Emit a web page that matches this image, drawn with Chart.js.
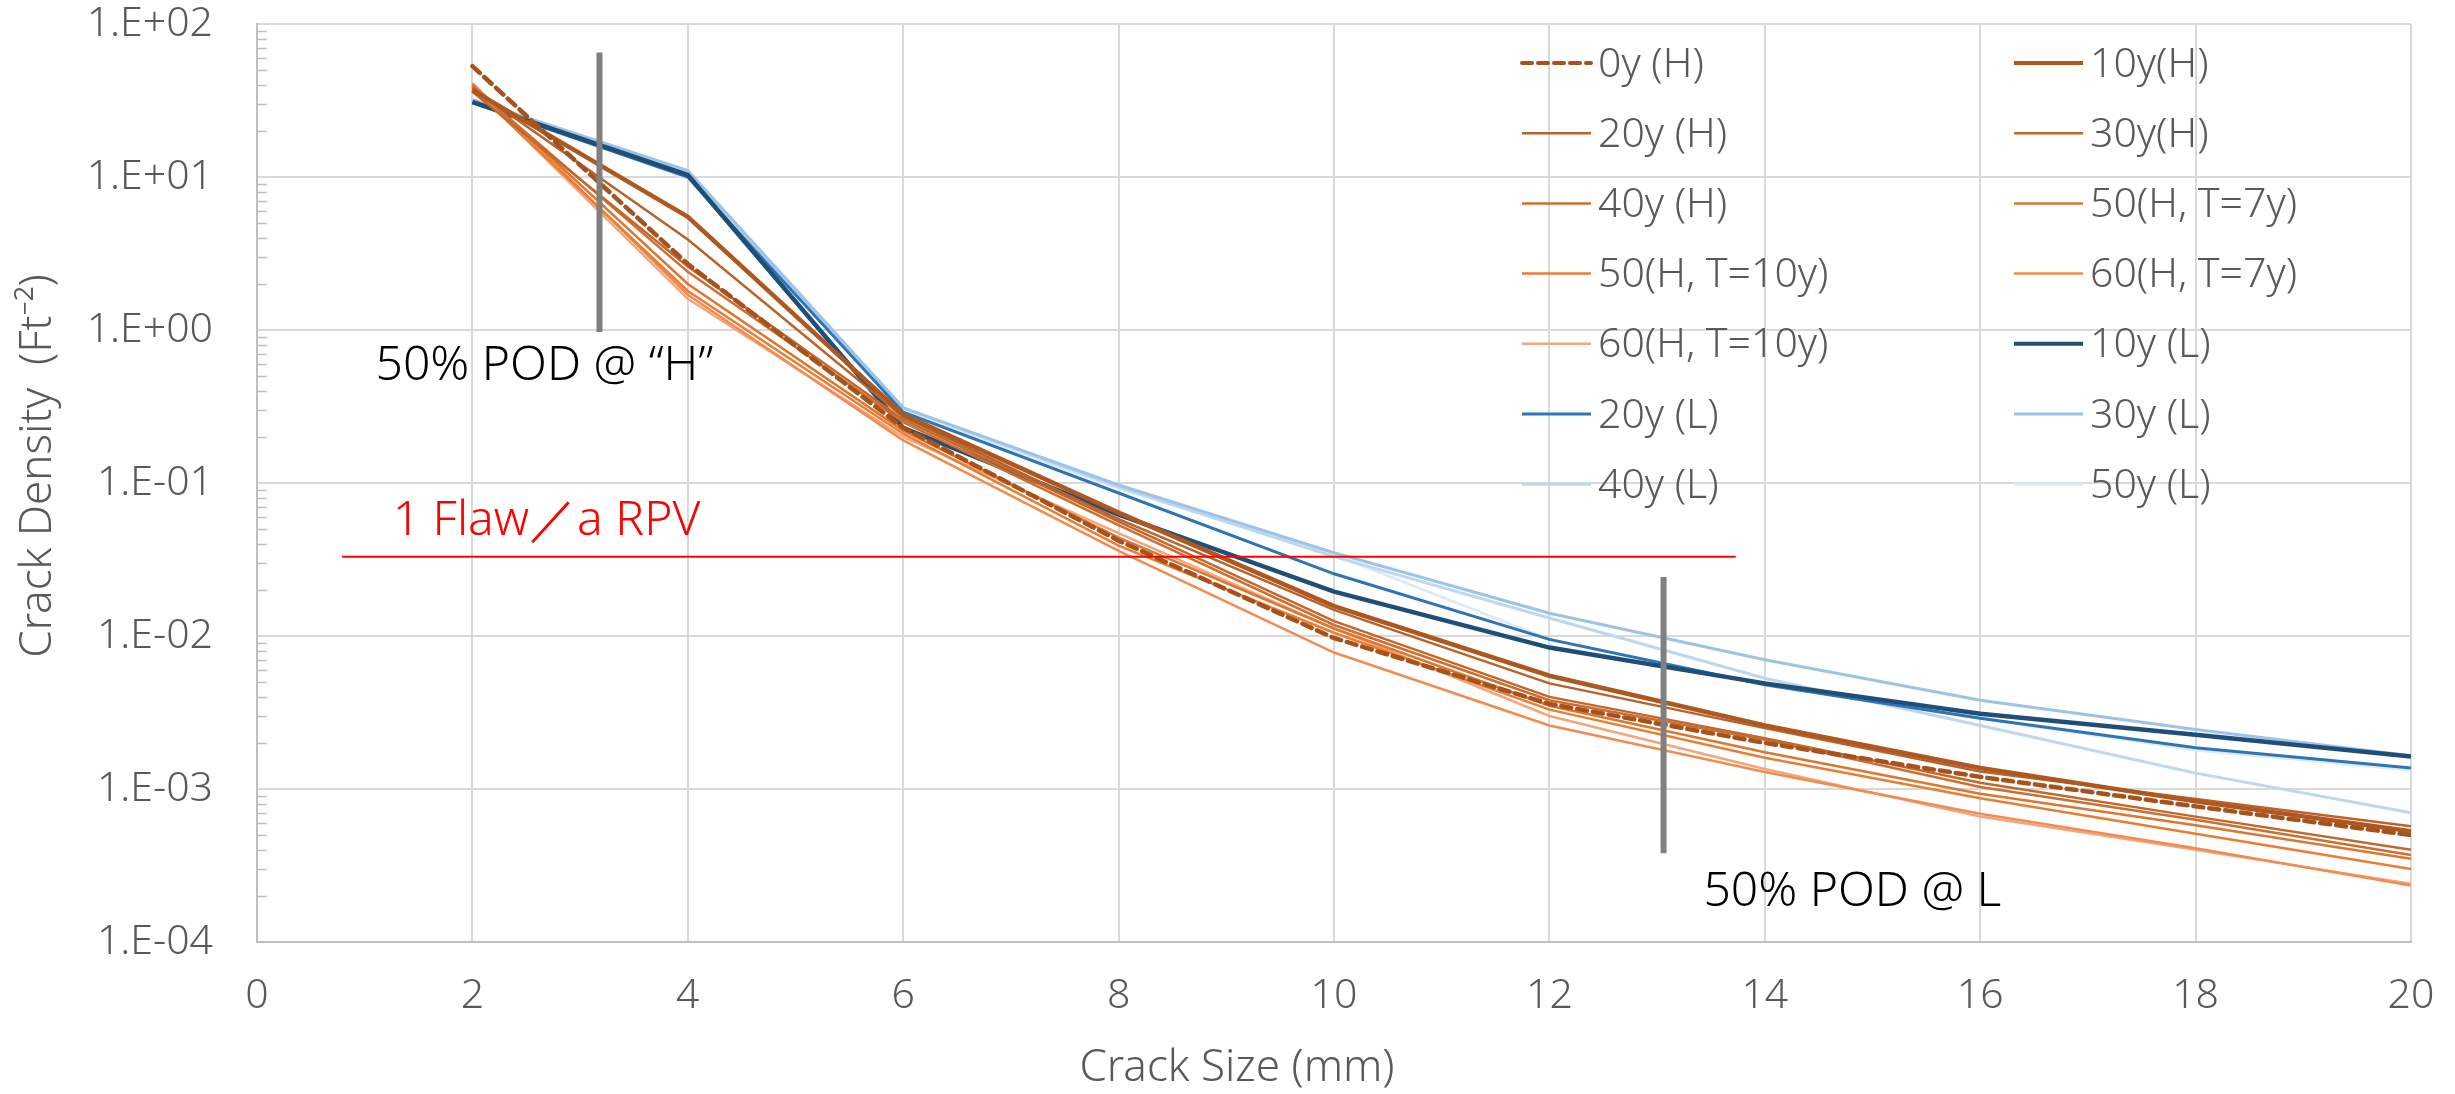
<!DOCTYPE html>
<html>
<head>
<meta charset="utf-8">
<script src="https://cdn.jsdelivr.net/npm/chart.js@4.4.1/dist/chart.umd.min.js"></script>
<style>
  html, body { margin: 0; padding: 0; background: #fff; }
</style>
</head>
<body>
<canvas id="crackChart" width="2455" height="1094"></canvas>
<script>
// crack size (mm)
const crackSize = [2, 4, 6, 8, 10, 12, 14, 16, 18, 20];

// crack density (Ft^-2), "H" cases
const h0y    = [53, 2.7, 0.23, 0.042, 0.0097, 0.0036, 0.0020, 0.0012, 0.00077, 0.00050];
const h10y   = [37, 5.5, 0.28, 0.064, 0.0157, 0.0055, 0.0026, 0.00137, 0.00083, 0.00053];
const h20y   = [38, 3.9, 0.27, 0.058, 0.0148, 0.0049, 0.0025, 0.00130, 0.00086, 0.00057];
const h30y   = [36, 2.6, 0.26, 0.056, 0.0125, 0.0040, 0.00215, 0.00110, 0.00066, 0.00040];
const h40y   = [39, 2.4, 0.25, 0.053, 0.0118, 0.0038, 0.0021, 0.00103, 0.00063, 0.00037];
const h50t7  = [40, 2.0, 0.22, 0.044, 0.0112, 0.0035, 0.00174, 0.00093, 0.00058, 0.00035];
const h50t10 = [38, 1.8, 0.21, 0.039, 0.0105, 0.0033, 0.0016, 0.00087, 0.00051, 0.00030];
const h60t7  = [41, 1.7, 0.19, 0.036, 0.0078, 0.0026, 0.00129, 0.00069, 0.00041, 0.000234];
const h60t10 = [39, 1.6, 0.20, 0.047, 0.0112, 0.0030, 0.00135, 0.00066, 0.00040, 0.00024];

// crack density (Ft^-2), "L" cases
const l10y = [31, 10.3, 0.229, 0.062, 0.0195, 0.0084, 0.0049, 0.0031, 0.00226, 0.00163];
const l20y = [30.5, 10.0, 0.29, 0.086, 0.0255, 0.0095, 0.0048, 0.0029, 0.00186, 0.00137];
const l30y = [32, 11, 0.31, 0.097, 0.035, 0.0141, 0.0070, 0.0038, 0.00245, 0.00165];
const l40y = [31, 10.5, 0.31, 0.094, 0.033, 0.0131, 0.0053, 0.0026, 0.00127, 0.00070];
const l50y = [32, 9.8, 0.30, 0.092, 0.034, 0.0095, 0.0048, 0.0029, 0.00180, 0.00133];

const seriesLabels = ['0y (H)', '10y(H)', '20y (H)', '30y(H)', '40y (H)', '50(H, T=7y)',
  '50(H, T=10y)', '60(H, T=7y)', '60(H, T=10y)', '10y (L)', '20y (L)', '30y (L)', '40y (L)', '50y (L)'];
const seriesValues = [h0y, h10y, h20y, h30y, h40y, h50t7, h50t10, h60t7, h60t10, l10y, l20y, l30y, l40y, l50y];

// y axis decades
const yTickValues = [1e-4, 1e-3, 1e-2, 1e-1, 1, 10, 100];

// reference marks: 1 flaw per RPV level and the two 50% POD sizes
const flawLevel = 0.033;
const flawRange = [0.79, 13.73];
const podHSize = 3.18;
const podHRange = [65, 0.97];
const podLSize = 13.06;
const podLRange = [0.0243, 0.00038];

const styles = [
  { color: '#A5521C', width: 4.5, dash: [10, 6] },
  { color: '#AE581F', width: 4.5 },
  { color: '#B9622A', width: 2.5 },
  { color: '#C2682C', width: 2.5 },
  { color: '#CF6E2E', width: 2.5 },
  { color: '#DD7630', width: 2.5 },
  { color: '#EB7D33', width: 2.5 },
  { color: '#F08C50', width: 2.5 },
  { color: '#F4A57E', width: 2.5 },
  { color: '#1F4E79', width: 4.5 },
  { color: '#2E75B6', width: 3 },
  { color: '#9DC3E6', width: 3 },
  { color: '#BDD7EE', width: 3 },
  { color: '#DEEBF7', width: 3 },
];

const FONT = '"Noto Sans", sans-serif';
const TEXT_GREY = '#595959';

const datasets = seriesLabels.map((label, i) => ({
  label,
  data: crackSize.map((x, k) => ({ x, y: seriesValues[i][k] })),
  borderColor: styles[i].color,
  borderWidth: styles[i].width,
  borderDash: styles[i].dash || [],
  borderCapStyle: styles[i].dash ? 'round' : 'butt',
  pointRadius: 0,
  tension: 0,
  fill: false,
}));

datasets.push({
  label: 'flaw',
  data: flawRange.map(x => ({ x, y: flawLevel })),
  borderColor: '#FF0000', borderWidth: 2, pointRadius: 0, order: -1,
});
datasets.push({
  label: 'podH',
  data: podHRange.map(y => ({ x: podHSize, y })),
  borderColor: '#808080', borderWidth: 6, pointRadius: 0, order: -1,
});
datasets.push({
  label: 'podL',
  data: podLRange.map(y => ({ x: podLSize, y })),
  borderColor: '#808080', borderWidth: 6, pointRadius: 0, order: -1,
});

// inside minor tick marks on the log axis
const minorTicks = {
  id: 'minorTicks',
  beforeDatasetsDraw(chart) {
    const ys = chart.scales.y;
    const left = chart.chartArea.left;
    const ctx = chart.ctx;
    ctx.save();
    ctx.strokeStyle = '#BFBFBF';
    ctx.lineWidth = 1.5;
    for (let e = -4; e < 2; e++) {
      for (let m = 2; m <= 9; m++) {
        const py = Math.round(ys.getPixelForValue(m * Math.pow(10, e))) + 0.5;
        ctx.beginPath();
        ctx.moveTo(left, py);
        ctx.lineTo(left + 10, py);
        ctx.stroke();
      }
    }
    ctx.restore();
  }
};

// axis titles, notes and the two-column legend
const overlay = {
  id: 'overlay',
  afterDraw(chart) {
    const ctx = chart.ctx;
    const xs = chart.scales.x, ys = chart.scales.y;
    ctx.save();
    ctx.textBaseline = 'middle';

    ctx.fillStyle = TEXT_GREY;
    ctx.font = '300 44px ' + FONT;
    ctx.textAlign = 'center';
    ctx.fillText('Crack Size (mm)', 1237, 1068);
    ctx.save();
    ctx.translate(38, 466);
    ctx.rotate(-Math.PI / 2);
    ctx.fillText('Crack Density  (Ft\u207B\u00B2)', 0, 0);
    ctx.restore();

    ctx.textAlign = 'left';
    ctx.font = '300 48px ' + FONT;
    ctx.fillStyle = '#000';
    ctx.fillText('50% POD @ \u201CH\u201D', xs.getPixelForValue(1.1), ys.getPixelForValue(0.58));
    ctx.fillText('50% POD @ L', xs.getPixelForValue(13.43), ys.getPixelForValue(0.00021));
    ctx.fillStyle = '#FF0000';
    ctx.fillText('1 Flaw\uFF0Fa RPV', xs.getPixelForValue(1.26), ys.getPixelForValue(0.0565));

    ctx.font = '300 41px ' + FONT;
    ctx.fillStyle = TEXT_GREY;
    seriesLabels.forEach((label, i) => {
      const ds = chart.data.datasets[i];
      const x0 = i % 2 ? 2014 : 1522;
      const y = 63 + Math.floor(i / 2) * 70.2;
      ctx.save();
      ctx.strokeStyle = ds.borderColor;
      ctx.lineWidth = Math.min(ds.borderWidth, 4);
      ctx.setLineDash(ds.borderDash);
      ctx.lineCap = ds.borderCapStyle;
      ctx.beginPath();
      ctx.moveTo(x0, y);
      ctx.lineTo(x0 + 69, y);
      ctx.stroke();
      ctx.restore();
      ctx.fillText(label, x0 + 76, y + 2);
    });
    ctx.restore();
  }
};

new Chart(document.getElementById('crackChart'), {
  type: 'line',
  data: { datasets },
  plugins: [minorTicks, overlay],
  options: {
    responsive: false,
    animation: false,
    devicePixelRatio: 1,
    layout: { padding: { top: 24, right: 44, left: 0, bottom: 0 } },
    plugins: { legend: { display: false }, tooltip: { enabled: false } },
    scales: {
      x: {
        type: 'linear', min: 0, max: 20,
        afterFit: s => { s.height = 152; s.paddingLeft = 0; s.paddingRight = 0; },
        ticks: { stepSize: 2, color: TEXT_GREY, padding: 30, font: { family: FONT, size: 41, weight: '300' } },
        grid: { color: '#D9D9D9', lineWidth: 2, drawTicks: false },
        border: { color: '#BFBFBF', width: 2 },
      },
      y: {
        type: 'logarithmic', min: 1e-4, max: 100,
        afterFit: s => { s.width = 257; s.paddingTop = 0; s.paddingBottom = 0; },
        afterBuildTicks: s => { s.ticks = yTickValues.map(v => ({ value: v })); },
        ticks: {
          color: TEXT_GREY, padding: 44, font: { family: FONT, size: 41, weight: '300' },
          callback: v => {
            const e = Math.round(Math.log10(v));
            return '1.E' + (e < 0 ? '-' : '+') + String(Math.abs(e)).padStart(2, '0');
          }
        },
        grid: { color: '#D9D9D9', lineWidth: 2, drawTicks: false },
        border: { color: '#BFBFBF', width: 2 },
      }
    }
  }
});
</script>
</body>
</html>
